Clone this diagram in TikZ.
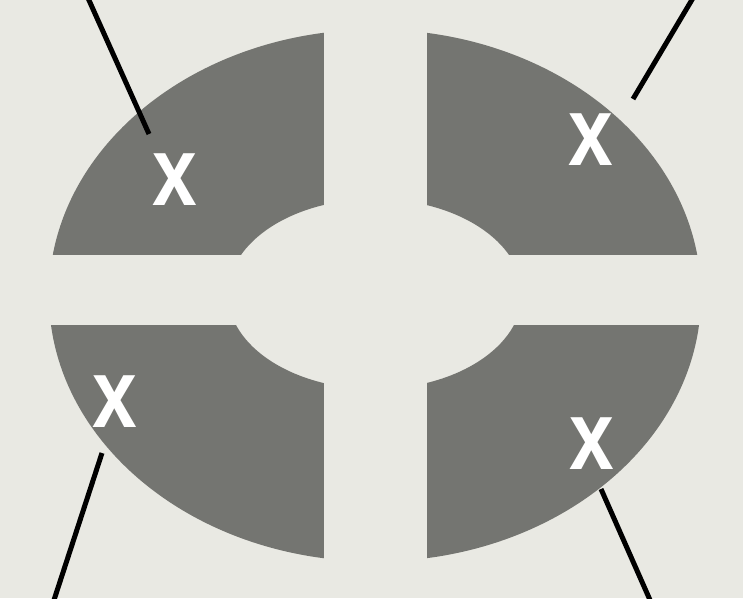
\documentclass[tikz,border=0pt]{standalone}
\usepackage{fontspec}
\setmainfont{Liberation Sans}
\definecolor{bgc}{HTML}{E9E9E3}
\definecolor{ringc}{HTML}{747571}
\begin{document}
\begin{tikzpicture}[x=1pt,y=-1pt,
  mark label/.style={text=white,font=\fontsize{98}{98}\selectfont\bfseries,inner sep=0pt,xscale=0.82},
  leader/.style={draw=black,line width=5pt}]
\fill[bgc] (0,0) rectangle (743,598);
\useasboundingbox (0,0) rectangle (743,598);
% ring
\fill[ringc,even odd rule] (375,295.5) ellipse [x radius=326, y radius=266]
  (375,294) ellipse [x radius=147, y radius=95];
% cross gaps
\fill[bgc] (324,0) rectangle (427,598);
\fill[bgc] (0,255) rectangle (743,325);
% labels
\node[mark label] (x1) at (175,180) {x};
\node[mark label] (x2) at (591,140) {x};
\node[mark label] (x3) at (115,402) {x};
\node[mark label] (x4) at (592,444) {x};
% leader lines
\coordinate (a1) at (88,-2);
\coordinate (b1) at (149,134);
\coordinate (a2) at (693,-2);
\coordinate (b2) at (633,99);
\coordinate (a3) at (54,600);
\coordinate (b3) at (102,453);
\coordinate (a4) at (650,600);
\coordinate (b4) at (601,489);
\draw[leader] (a1) -- (b1);
\draw[leader] (a2) -- (b2);
\draw[leader] (a3) -- (b3);
\draw[leader] (a4) -- (b4);
\end{tikzpicture}
\end{document}
